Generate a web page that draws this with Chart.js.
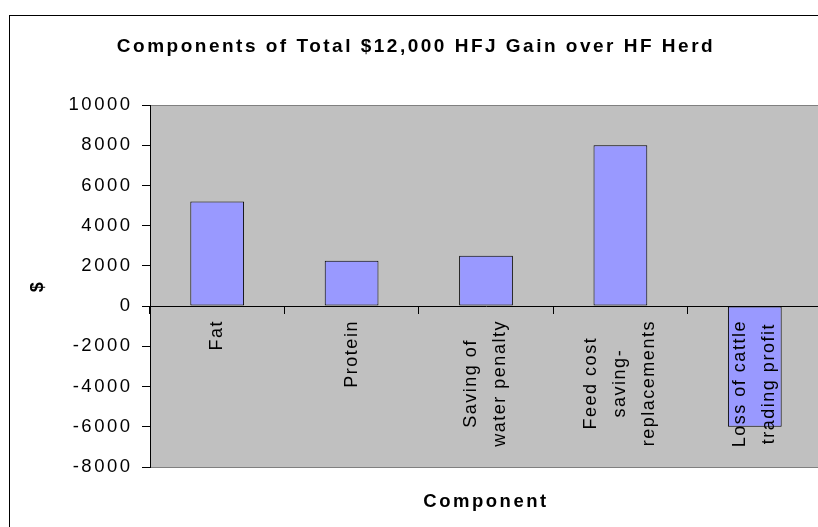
<!DOCTYPE html>
<html>
<head>
<meta charset="utf-8">
<title>Components of Total $12,000 HFJ Gain over HF Herd</title>
<script src="https://cdn.jsdelivr.net/npm/chart.js@4.4.1/dist/chart.umd.min.js"></script>
<style>
    html, body { margin: 0; padding: 0; background: #fff; overflow: hidden; }
    canvas { display: block; }
</style>
</head>
<body>
<canvas id="chartKomponen" width="840" height="545"></canvas>
<script>
// data
const categories = [
    'Fat',
    'Protein',
    ['Saving of', 'water penalty'],
    ['Feed cost', 'saving-', 'replacements'],
    ['Loss of cattle', 'trading profit']
];
const gainValues = [5200, 2250, 2500, 8000, -6000];
const yTicks = [-8000, -6000, -4000, -2000, 0, 2000, 4000, 6000, 8000, 10000];

const FONT = '"Liberation Sans", Arial, Helvetica, sans-serif';

document.addEventListener("DOMContentLoaded", function () {

    // ================================
    // background, frame, letter spacing
    // ================================
    const frame = {
        id: 'frame',
        beforeDraw(chart) {
            const { ctx, chartArea: a } = chart;
            ctx.save();
            ctx.fillStyle = '#fff';
            ctx.fillRect(0, 0, chart.width, chart.height);
            ctx.strokeStyle = '#000';
            ctx.lineWidth = 1;
            ctx.strokeRect(9.5, 15.5, chart.width, chart.height);
            ctx.fillStyle = '#c0c0c0';
            ctx.fillRect(a.left, a.top, a.right - a.left, a.bottom - a.top);
            ctx.strokeStyle = '#808080';
            ctx.strokeRect(a.left + 0.5, a.top + 0.5, a.right - a.left, a.bottom - a.top);
            ctx.restore();
            ctx.letterSpacing = '2.5px';
        }
    };

    // ================================
    // category labels under the zero line, lines centred like Excel
    // ================================
    const catLabels = {
        id: 'catLabels',
        afterDatasetsDraw(chart) {
            const { ctx, scales: { x, y } } = chart;
            const base = y.getPixelForValue(0) + 14;
            const lineH = 29;
            ctx.save();
            ctx.letterSpacing = '1.5px';
            ctx.font = '18px ' + FONT;
            ctx.fillStyle = '#000';
            ctx.textAlign = 'center';
            ctx.textBaseline = 'middle';
            categories.forEach((label, i) => {
                const lines = [].concat(label);
                const w = Math.max(...lines.map(s => ctx.measureText(s).width));
                ctx.save();
                ctx.translate(x.getPixelForValue(i), base + w / 2);
                ctx.rotate(-Math.PI / 2);
                lines.forEach((s, j) => {
                    ctx.fillText(s, 0, (j - (lines.length - 1) / 2) * lineH);
                });
                ctx.restore();
            });
            ctx.restore();
        }
    };

    new Chart(document.getElementById('chartKomponen'), {
        type: 'bar',
        data: {
            labels: categories,
            datasets: [{
                label: '$',
                data: gainValues,
                backgroundColor: '#9999ff',
                borderColor: '#000',
                borderWidth: 1,
                borderSkipped: false,
                categoryPercentage: 1,
                barPercentage: 0.4
            }]
        },
        options: {
            responsive: false,
            animation: false,
            layout: { padding: { left: 10, top: 16, right: 18, bottom: 10 } },
            plugins: {
                legend: { display: false },
                tooltip: { enabled: false },
                title: {
                    display: true,
                    text: 'Components of Total $12,000 HFJ Gain over HF Herd',
                    color: '#000',
                    font: { family: FONT, size: 19, weight: 'bold', lineHeight: 1.2 },
                    padding: { top: 19.6, bottom: 46.6 }
                },
                subtitle: {
                    display: true,
                    position: 'bottom',
                    fullSize: false,
                    text: 'Component',
                    color: '#000',
                    font: { family: FONT, size: 18.5, weight: 'bold', lineHeight: 1.2 },
                    padding: { top: 23.9, bottom: 21.9 }
                }
            },
            scales: {
                x: {
                    position: { y: 0 },
                    offset: true,
                    ticks: { display: false },
                    grid: {
                        offset: true,
                        drawOnChartArea: false,
                        drawTicks: true,
                        tickLength: 7,
                        color: '#000'
                    },
                    border: { color: '#000', width: 1 }
                },
                y: {
                    min: yTicks[0],
                    max: yTicks[yTicks.length - 1],
                    afterBuildTicks: scale => { scale.ticks = yTicks.map(v => ({ value: v })); },
                    afterFit: scale => { scale.width = 140; },
                    ticks: {
                        color: '#000',
                        padding: 9.5,
                        font: { family: FONT, size: 18.5 },
                        callback: value => String(value)
                    },
                    grid: {
                        drawOnChartArea: false,
                        drawTicks: true,
                        tickLength: 8,
                        color: '#000'
                    },
                    border: { color: '#000', width: 1 },
                    title: {
                        display: true,
                        text: '$',
                        color: '#000',
                        font: { family: FONT, size: 18, weight: 'bold', lineHeight: 1.2 },
                        padding: { top: 17.2, bottom: 0 }
                    }
                }
            }
        },
        plugins: [frame, catLabels]
    });

});
</script>
</body>
</html>
